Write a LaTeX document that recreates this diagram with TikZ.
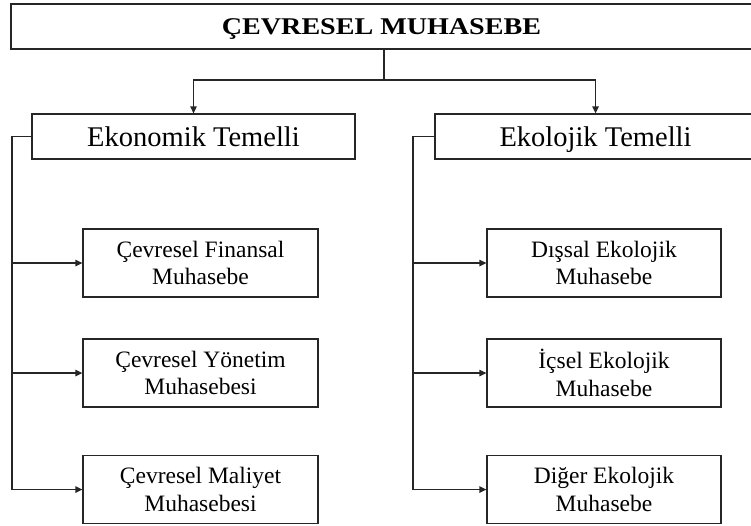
\documentclass[tikz,border=0pt]{standalone}
\usepackage{fontspec}
\setmainfont{Liberation Serif}
\usepackage{graphicx}
\usetikzlibrary{arrows.meta}
\begin{document}
\begin{tikzpicture}[x=1pt,y=-1pt,
  line/.style={draw=black!85,line width=1.3pt},
  arr/.style={line,-{Triangle[length=7pt,width=6.5pt]}},
  titlebox/.style={line,rectangle,inner sep=0pt,minimum width=741pt,minimum height=45pt,text height=16pt,text depth=0pt},
  midbox/.style={line,rectangle,inner sep=0pt,minimum height=45pt,text height=19pt,text depth=0pt,font=\fontsize{28.5}{34}\selectfont},
  subbox/.style={line,rectangle,inner sep=0pt,minimum width=235pt,minimum height=68pt,align=center,font=\fontsize{23.5}{27.3}\selectfont}
]
\useasboundingbox (0,0) rectangle (751,525);
\node[titlebox] (top) at (381.5,26.5) {\scalebox{1.17}[1]{\fontsize{24}{28}\selectfont\bfseries ÇEVRESEL MUHASEBE}};
\node[midbox,minimum width=323pt] (eko) at (193.5,136.5) {Ekonomik Temelli};
\node[midbox,minimum width=321pt] (ekol) at (595.5,136.5) {Ekolojik Temelli};
\node[subbox] (a1) at (200.5,263) {Çevresel Finansal\\Muhasebe};
\node[subbox] (a2) at (200.5,373) {Çevresel Yönetim\\Muhasebesi};
\node[subbox] (a3) at (200.5,489.5) {Çevresel Maliyet\\Muhasebesi};
\node[subbox,minimum width=234pt] (b1) at (604,263) {Dışsal Ekolojik\\Muhasebe};
\node[subbox,minimum width=234pt] (b2) at (604,373) {İçsel Ekolojik\\Muhasebe};
\node[subbox,minimum width=234pt] (b3) at (604,489.5) {Diğer Ekolojik\\Muhasebe};
\coordinate (j) at (384,80);
\coordinate (lb) at (12,136.5);
\coordinate (rb) at (413,136.5);
\draw[line] (top.south -| j) -- (j);
\draw[arr] (j) -| (eko.north);
\draw[arr] (j) -| (ekol.north);
\draw[line] (eko.west) -- (lb) |- (a3.west);
\draw[arr] (lb |- a1.west) -- (a1.west);
\draw[arr] (lb |- a2.west) -- (a2.west);
\draw[arr] (lb |- a3.west) -- (a3.west);
\draw[line] (ekol.west) -- (rb) |- (b3.west);
\draw[arr] (rb |- b1.west) -- (b1.west);
\draw[arr] (rb |- b2.west) -- (b2.west);
\draw[arr] (rb |- b3.west) -- (b3.west);
\end{tikzpicture}
\end{document}
